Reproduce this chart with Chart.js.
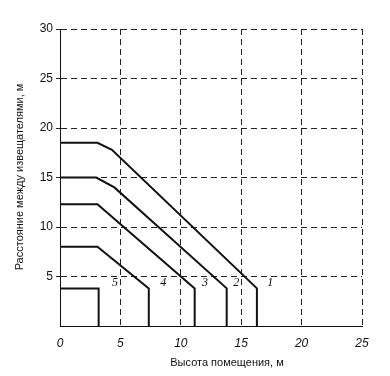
<!DOCTYPE html>
<html lang="ru">
<head>
<meta charset="UTF-8">
<title>Расстояние между извещателями</title>
<script src="https://cdn.jsdelivr.net/npm/chart.js"></script>
<style>
  html, body { margin: 0; padding: 0; background: #fff; }
  #wrap { width: 390px; height: 376px; position: relative; }
</style>
</head>
<body>
<div id="wrap"><canvas id="chart"></canvas></div>
<script>
// curves 1..5: room height (x) vs detector spacing (y)
var curve1X = [0, 3.1, 4.3, 16.3, 16.3];
var curve1Y = [18.5, 18.5, 17.8, 3.8, 0];
var curve2X = [0, 3.0, 4.5, 13.8, 13.8];
var curve2Y = [15, 15, 14.0, 3.8, 0];
var curve3X = [0, 3.1, 11.15, 11.15];
var curve3Y = [12.3, 12.3, 3.8, 0];
var curve4X = [0, 3.1, 7.35, 7.35];
var curve4Y = [8, 8, 3.8, 0];
var curve5X = [0, 3.2, 3.2];
var curve5Y = [3.8, 3.8, 0];

var curveLabels = ['1', '2', '3', '4', '5'];
var curveLabelX = [17.4, 14.6, 12.0, 8.55, 4.56];
var curveLabelY = [4.4, 4.4, 4.4, 4.4, 4.4];

var xTicks = [0, 5, 10, 15, 20, 25];
var yTicks = [5, 10, 15, 20, 25, 30];
var xTitle = 'Высота помещения, м';
var yTitle = 'Расстояние между извещателями, м';

function pts(xs, ys) {
  return xs.map(function (x, i) { return { x: x, y: ys[i] }; });
}

var lineStyle = {
  showLine: true,
  borderColor: '#111',
  borderWidth: 2,
  pointRadius: 0,
  fill: false,
  tension: 0
};

var datasets = [
  [curve1X, curve1Y], [curve2X, curve2Y], [curve3X, curve3Y],
  [curve4X, curve4Y], [curve5X, curve5Y]
].map(function (c, i) {
  return Object.assign({ label: curveLabels[i], data: pts(c[0], c[1]) }, lineStyle);
});

// curve numbers and axis titles
var textPlugin = {
  id: 'texts',
  afterDraw: function (chart) {
    var ctx = chart.ctx;
    var xs = chart.scales.x, ys = chart.scales.y;
    ctx.save();
    ctx.fillStyle = '#111';
    ctx.textAlign = 'center';
    ctx.textBaseline = 'middle';
    ctx.font = 'italic 12px "Liberation Serif"';
    curveLabels.forEach(function (t, i) {
      ctx.fillText(t, xs.getPixelForValue(curveLabelX[i]), ys.getPixelForValue(curveLabelY[i]));
    });
    ctx.font = '11px "Liberation Sans"';
    ctx.fillText(xTitle, 227, 363);
    ctx.translate(20, 177);
    ctx.rotate(-Math.PI / 2);
    ctx.fillText(yTitle, 0, 0);
    ctx.restore();
  }
};

new Chart(document.getElementById('chart'), {
  type: 'scatter',
  data: { datasets: datasets },
  options: {
    responsive: true,
    maintainAspectRatio: false,
    animation: false,
    layout: { padding: { top: 29, right: 28, left: 0, bottom: 0 } },
    plugins: { legend: { display: false }, tooltip: { enabled: false } },
    scales: {
      x: {
        type: 'linear',
        min: 0, max: 25,
        afterBuildTicks: function (s) { s.ticks = xTicks.map(function (v) { return { value: v }; }); },
        afterFit: function (s) { s.height = 50; },
        grid: { color: '#222', lineWidth: 1, tickLength: 0 },
        border: { display: true, color: '#111', width: 1, dash: [6, 4] },
        ticks: { color: '#111', padding: 10, font: { family: 'Liberation Sans', size: 12, style: 'italic' } }
      },
      y: {
        type: 'linear',
        min: 0, max: 30,
        afterBuildTicks: function (s) { s.ticks = yTicks.map(function (v) { return { value: v }; }); },
        afterFit: function (s) { s.width = 60; },
        grid: { color: '#222', lineWidth: 1, tickLength: 4 },
        border: { display: true, color: '#111', width: 1, dash: [6, 4] },
        ticks: { color: '#111', padding: 3, font: { family: 'Liberation Sans', size: 12 } }
      }
    }
  },
  plugins: [textPlugin]
});
</script>
</body>
</html>
